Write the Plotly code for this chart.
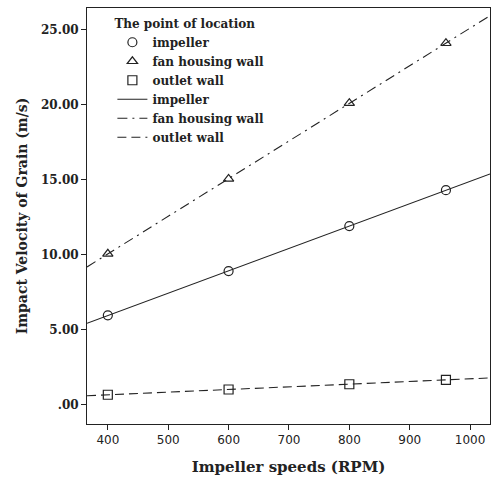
import numpy as np
import plotly.graph_objects as go

speeds = [400, 600, 800, 960]
impeller = [5.95, 8.90, 11.90, 14.30]
fan_housing = [10.05, 15.05, 20.10, 24.10]
outlet = [0.65, 1.00, 1.35, 1.65]
series_names = ["impeller", "fan housing wall", "outlet wall"]
x_range = [365.5, 1033]
y_range = [-1.3, 26.45]
y_ticks = [0, 5, 10, 15, 20, 25]
y_tick_text = [".00", "5.00", "10.00", "15.00", "20.00", "25.00"]
x_ticks = [400, 500, 600, 700, 800, 900, 1000]

serif = "DejaVu Serif"
ink = "#222222"
fig = go.Figure()
symbols = ["circle-open", "triangle-up-open", "square-open"]
dashes = ["solid", "10px,5px,2px,5px", "9px,5px"]
data = [impeller, fan_housing, outlet]

for name, vals, sym in zip(series_names, data, symbols):
    fig.add_trace(go.Scatter(
        x=speeds, y=vals, mode="markers", name="<b>" + name + "</b>",
        marker=dict(symbol=sym, size=9, color=ink, line=dict(width=1.2, color=ink)),
    ))

xs = np.array(x_range)
for name, vals, dash in zip(series_names, data, dashes):
    k, b = np.polyfit(speeds, vals, 1)
    fig.add_trace(go.Scatter(
        x=xs, y=k * xs + b, mode="lines", name="<b>" + name + "</b>",
        line=dict(color=ink, width=1.1, dash=dash),
    ))

fig.update_layout(
    width=492, height=481,
    margin=dict(l=87, r=2, t=8, b=57),
    paper_bgcolor="white", plot_bgcolor="white",
    showlegend=True,
    legend=dict(
        title=dict(text="<b>The point of location</b>", font=dict(family=serif, size=12, color=ink)),
        font=dict(family=serif, size=12, color=ink),
        x=0.063, y=0.99, xanchor="left", yanchor="top",
        bgcolor="rgba(0,0,0,0)", tracegroupgap=0, itemwidth=30,
    ),
    xaxis=dict(
        range=x_range, tickvals=x_ticks, showgrid=False, zeroline=False,
        showline=True, linecolor=ink, linewidth=1, mirror=True,
        ticks="outside", ticklen=5, tickcolor=ink, automargin=False,
        tickfont=dict(family="DejaVu Sans", size=12, color=ink),
        title=dict(text="<b>Impeller speeds (RPM)</b>", font=dict(family=serif, size=15, color=ink), standoff=15),
    ),
    yaxis=dict(
        range=y_range, tickvals=y_ticks, ticktext=y_tick_text, showgrid=False, zeroline=False,
        showline=True, linecolor=ink, linewidth=1, mirror=True,
        ticks="outside", ticklen=5, tickcolor=ink, automargin=False,
        tickfont=dict(family=serif, size=12, color=ink, weight="bold"),
        title=dict(text="<b>Impact Velocity of Grain (m/s)</b>", font=dict(family=serif, size=14, color=ink), standoff=10),
    ),
)

fig.write_html(
    "out.html",
    config={"displayModeBar": False},
    post_script="document.body.style.margin='0';document.documentElement.style.overflow='hidden';",
)
